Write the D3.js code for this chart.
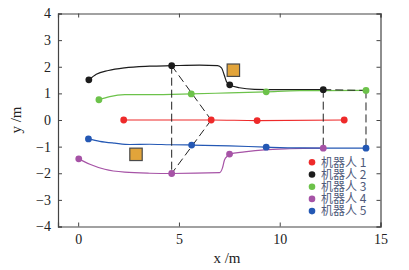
<!DOCTYPE html>
<html><head><meta charset="utf-8">
<script src="https://cdn.jsdelivr.net/npm/d3@7"></script>
<style>body{margin:0;background:#fff}svg{display:block}</style>
</head><body>
<svg id="c" width="409" height="270"></svg>
<script>
const xTicks = [0, 5, 10, 15];
const yTicks = [-4, -3, -2, -1, 0, 1, 2, 3, 4];
const robotNames = ["机器人 1", "机器人 2", "机器人 3", "机器人 4", "机器人 5"];
const robotColors = ["#ee2a2a", "#1c1c1c", "#6cc24a", "#a653a6", "#2458b4"];

const r1x = [2.26, 6.6, 8.88, 13.2];
const r1y = [0, 0, -0.02, 0];
const r1m = [2.26, 6.6, 8.88, 13.2];

const r2x = [0.53, 0.9, 1.5, 2.3, 3.55, 4.64, 6.02, 6.92, 7.11, 7.26, 7.36, 7.52, 8.0, 8.75, 10.0, 12.16];
const r2y = [1.51, 1.72, 1.86, 1.96, 2.02, 2.04, 2.06, 2.04, 1.96, 1.66, 1.44, 1.32, 1.21, 1.15, 1.14, 1.14];
const r2m = [0.53, 4.64, 7.52, 12.16];

const r3x = [1.03, 1.57, 2.31, 3.55, 5.61, 7.5, 9.33, 10.97, 14.28];
const r3y = [0.76, 0.88, 0.95, 0.95, 0.98, 1.02, 1.06, 1.10, 1.11];
const r3m = [1.03, 5.61, 9.33, 14.28];

const r4x = [0.03, 0.58, 1.32, 2.31, 3.55, 4.64, 7.02, 7.16, 7.26, 7.41, 7.51, 8.25, 9.24, 10.48, 12.16];
const r4y = [-1.46, -1.66, -1.85, -1.96, -2.0, -2.01, -1.98, -1.8, -1.5, -1.35, -1.28, -1.2, -1.12, -1.08, -1.06];
const r4m = [0.03, 4.64, 7.51, 12.16];

const r5x = [0.51, 1.07, 1.82, 2.56, 3.55, 4.54, 5.63, 7.51, 9.33, 10.97, 14.28];
const r5y = [-0.71, -0.8, -0.87, -0.92, -0.91, -0.93, -0.94, -0.97, -1.02, -1.05, -1.06];
const r5m = [0.51, 5.63, 9.33, 14.28];

const obstacleX = [7.7, 2.87];
const obstacleY = [1.87, -1.29];

// formation dashed links: [x1, y1, x2, y2]
const linkX1 = [4.64, 6.6, 4.64, 12.16, 14.28, 12.16];
const linkY1 = [2.04, 0, 2.04, 1.14, 1.11, 1.14];
const linkX2 = [6.6, 4.64, 4.64, 12.16, 14.28, 14.28];
const linkY2 = [0, -2.01, -2.01, -1.06, -1.06, 1.11];

const robots = [[r1x, r1y, r1m], [r2x, r2y, r2m], [r3x, r3y, r3m], [r4x, r4y, r4m], [r5x, r5y, r5m]];

const svg = d3.select("#c");
const L = 58, R = 380.5, T = 13.5, B = 226.5;
const x = d3.scaleLinear().domain([-1, 15]).range([L, R]);
const y = d3.scaleLinear().domain([-4, 4]).range([B, T]);
const serif = "'Liberation Serif','DejaVu Serif',serif";

// axes
const axB = svg.append("g").attr("transform", `translate(0,${B})`)
  .call(d3.axisBottom(x).tickValues(xTicks).tickSize(-4).tickPadding(8).tickFormat(d3.format("d")));
const axT = svg.append("g").attr("transform", `translate(0,${T})`)
  .call(d3.axisTop(x).tickValues(xTicks).tickSize(-4).tickFormat(""));
const axL = svg.append("g").attr("transform", `translate(${L},0)`)
  .call(d3.axisLeft(y).tickValues(yTicks).tickSize(-4).tickPadding(7).tickFormat(d => d < 0 ? "\u2212" + Math.abs(d) : d));
const axR = svg.append("g").attr("transform", `translate(${R},0)`)
  .call(d3.axisRight(y).tickValues(yTicks).tickSize(-4).tickFormat(""));
[axB, axT, axL, axR].forEach(a => {
  a.attr("font-family", serif);
  a.select(".domain").attr("stroke", "#444").attr("stroke-width", 1.2);
  a.selectAll(".tick line").attr("stroke", "#444");
  a.selectAll("text").attr("font-family", serif).attr("font-size", 14).attr("fill", "#222");
});

const g = svg.append("g");
const line = d3.line().x(d => x(d[0])).y(d => y(d[1]));

// trajectories
robots.forEach((r, i) => {
  const pts = r[0].map((v, k) => [v, r[1][k]]);
  g.append("path").attr("d", line.curve(d3.curveMonotoneX)(pts))
    .attr("fill", "none").attr("stroke", robotColors[i]).attr("stroke-width", 1.2);
});

// dashed formation links
linkX1.forEach((v, k) => {
  g.append("line").attr("x1", x(v)).attr("y1", y(linkY1[k]))
    .attr("x2", x(linkX2[k])).attr("y2", y(linkY2[k]))
    .attr("stroke", "#222").attr("stroke-width", 1).attr("stroke-dasharray", "8,4");
});

// markers
robots.forEach((r, i) => {
  r[2].forEach(mx => {
    const k = r[0].indexOf(mx);
    g.append("circle").attr("cx", x(mx)).attr("cy", y(r[1][k])).attr("r", 3.4)
      .attr("fill", robotColors[i]);
  });
});

// obstacles
obstacleX.forEach((v, k) => {
  g.append("rect").attr("x", x(v) - 6.2).attr("y", y(obstacleY[k]) - 6.2)
    .attr("width", 12.4).attr("height", 12.4)
    .attr("fill", "#e2a43a").attr("stroke", "#4a4a4a").attr("stroke-width", 1.2);
});

// legend
const lg = svg.append("g");
robotNames.forEach((n, i) => {
  const yy = 162.3 + i * 12.2;
  lg.append("circle").attr("cx", 312).attr("cy", yy).attr("r", 3.3).attr("fill", robotColors[i]);
  lg.append("text").attr("x", 321).attr("y", yy).attr("dy", "0.36em")
    .attr("font-family", "'Noto Sans CJK SC',sans-serif").attr("font-size", 12)
    .attr("fill", "#4f5a7a").text(n);
});

// axis labels
svg.append("text").attr("x", 227).attr("y", 263).attr("text-anchor", "middle")
  .attr("font-family", serif).attr("font-size", 15).attr("fill", "#222").text("x /m");
svg.append("text").attr("transform", "translate(21,120) rotate(-90)").attr("text-anchor", "middle")
  .attr("font-family", serif).attr("font-size", 15).attr("fill", "#222").text("y /m");
</script>
</body></html>
